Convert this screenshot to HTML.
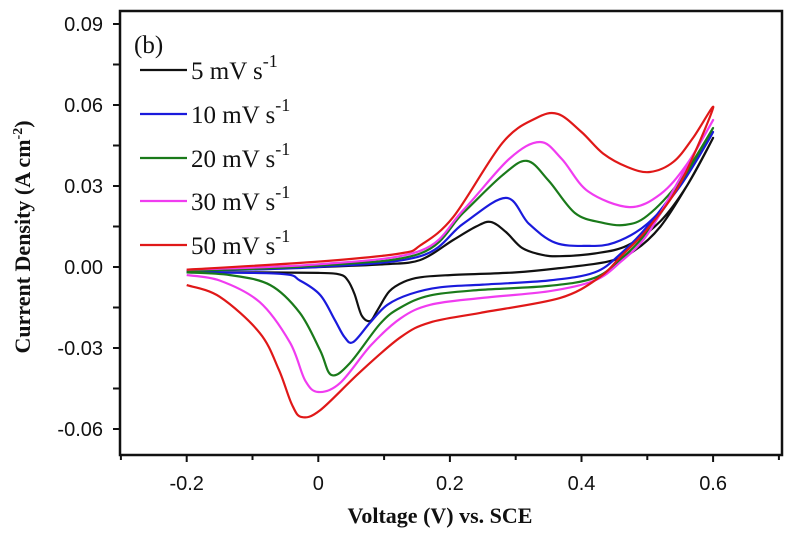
<!DOCTYPE html>
<html><head><meta charset="utf-8"><style>
body{margin:0;background:#fff;width:785px;height:532px;overflow:hidden}
svg text{fill:#111}
.tk{font-family:"Liberation Sans",sans-serif;font-size:20px}
.lg{font-family:"Liberation Serif",serif;font-size:25px}
.ax{font-family:"Liberation Serif",serif;font-size:22px;font-weight:bold}
</style></head><body>
<svg id="chart" width="785" height="532" xmlns="http://www.w3.org/2000/svg">
<g id="marks"></g>
<g id="axes"></g>
<g id="legend"></g>
</svg>
<script>
const xTicks=[-0.2,0,0.2,0.4,0.6];
const xTickLabels=["-0.2","0","0.2","0.4","0.6"];
const yTicks=[-0.06,-0.03,0,0.03,0.06,0.09];
const yTickLabels=["-0.06","-0.03","0.00","0.03","0.06","0.09"];
const seriesNames=["5 mV s","10 mV s","20 mV s","30 mV s","50 mV s"];
const v5=[-0.2,-0.1,0,0.1,0.155,0.205,0.24,0.262,0.285,0.31,0.34,0.367,0.42,0.47,0.52,0.56,0.6,0.56,0.52,0.48,0.44,0.367,0.3,0.2,0.155,0.13,0.108,0.09,0.079,0.066,0.055,0.045,0.033,0,-0.1,-0.2];
const i5=[-0.0015,-0.0005,0,0.001,0.0026,0.010,0.015,0.0167,0.013,0.007,0.0045,0.004,0.005,0.008,0.017,0.030,0.0478,0.030,0.015,0.006,0.002,-0.0004,-0.002,-0.003,-0.0038,-0.0055,-0.009,-0.016,-0.020,-0.018,-0.010,-0.005,-0.0028,-0.0022,-0.002,-0.002];
const v10=[-0.2,0,0.155,0.22,0.285,0.32,0.36,0.408,0.45,0.5,0.55,0.6,0.55,0.5,0.46,0.42,0.35,0.25,0.185,0.14,0.105,0.079,0.053,0.04,0.025,0.003,-0.028,-0.058,-0.2];
const i10=[-0.0015,0,0.004,0.016,0.0256,0.016,0.009,0.0078,0.009,0.016,0.030,0.050,0.031,0.015,0.005,-0.002,-0.005,-0.0065,-0.0075,-0.010,-0.014,-0.0205,-0.0278,-0.026,-0.0196,-0.0104,-0.005,-0.0025,-0.002];
const v20=[-0.2,0,0.155,0.22,0.28,0.317,0.35,0.39,0.43,0.466,0.5,0.55,0.6,0.55,0.5,0.46,0.42,0.35,0.246,0.17,0.125,0.094,0.048,0.02,0.003,-0.028,-0.073,-0.134,-0.2];
const i20=[-0.0015,0.0005,0.005,0.020,0.034,0.0393,0.032,0.020,0.0165,0.0156,0.019,0.032,0.0515,0.031,0.013,0.003,-0.004,-0.007,-0.0085,-0.0105,-0.015,-0.021,-0.0356,-0.040,-0.031,-0.017,-0.0067,-0.003,-0.002];
const v30=[-0.2,0,0.155,0.22,0.29,0.337,0.37,0.41,0.473,0.52,0.56,0.6,0.55,0.5,0.46,0.42,0.35,0.246,0.17,0.125,0.08,0.033,0,-0.02,-0.043,-0.089,-0.15,-0.2];
const i30=[-0.001,0.001,0.006,0.021,0.040,0.0463,0.040,0.028,0.0222,0.027,0.038,0.0544,0.033,0.012,0.002,-0.005,-0.009,-0.0115,-0.014,-0.019,-0.029,-0.043,-0.0463,-0.042,-0.028,-0.013,-0.005,-0.003];
const v50=[-0.2,0,0.124,0.155,0.205,0.28,0.33,0.364,0.40,0.433,0.47,0.504,0.54,0.57,0.6,0.55,0.5,0.46,0.428,0.367,0.246,0.17,0.125,0.063,0.003,-0.025,-0.04,-0.06,-0.089,-0.15,-0.2];
const i50=[-0.001,0.002,0.005,0.008,0.0185,0.046,0.055,0.0567,0.050,0.042,0.037,0.0352,0.039,0.048,0.0589,0.031,0.014,0.004,-0.0037,-0.0115,-0.017,-0.0205,-0.026,-0.039,-0.053,-0.0556,-0.051,-0.038,-0.0244,-0.011,-0.0067];
const colors=["#111","#1a1adc","#1a7a1a","#f03cf0","#e01818"];
const NS="http://www.w3.org/2000/svg";
const X0=120,X1=782,Y0=11,Y1=455;
const xs=v=>318.3+v*658;
const ys=i=>267-i*2700;
function mk(t,a,p){const e=document.createElementNS(NS,t);for(const k in a)e.setAttribute(k,a[k]);p.appendChild(e);return e;}
const marks=document.getElementById('marks'),axes=document.getElementById('axes'),legend=document.getElementById('legend');
function smooth(P){let d="M"+P[0][0]+","+P[0][1];for(let k=0;k<P.length-1;k++){const p0=P[k-1]||P[k],p1=P[k],p2=P[k+1],p3=P[k+2]||p2;const c1=[p1[0]+(p2[0]-p0[0])/6,p1[1]+(p2[1]-p0[1])/6],c2=[p2[0]-(p3[0]-p1[0])/6,p2[1]-(p3[1]-p1[1])/6];d+=`C${c1[0].toFixed(1)},${c1[1].toFixed(1)} ${c2[0].toFixed(1)},${c2[1].toFixed(1)} ${p2[0].toFixed(1)},${p2[1].toFixed(1)}`;}return d;}
const V=[v5,v10,v20,v30,v50],I=[i5,i10,i20,i30,i50];
V.forEach((vv,s)=>{const P=vv.map((v,k)=>[xs(v),ys(I[s][k])]);
const p=mk('path',{d:smooth(P),fill:'none',stroke:colors[s],'stroke-width':2.2,'stroke-linejoin':'round'},marks);

});
const fr=mk('rect',{x:X0,y:Y0,width:X1-X0,height:Y1-Y0,fill:'none',stroke:'#111','stroke-width':2.5},axes);


for(let v=-0.3;v<=0.7001;v+=0.1){const x=xs(v);const maj=Math.abs(Math.round(v*10)%2)===0;mk('line',{x1:x,x2:x,y1:Y1,y2:Y1+(maj?7:5),stroke:'#111','stroke-width':2},axes);}
xTicks.forEach((v,k)=>{const t=mk('text',{x:xs(v),y:Y1+35,'text-anchor':'middle',class:'tk'},axes);t.textContent=xTickLabels[k];

});
for(let i=-0.075;i<=0.0901;i+=0.015){const y=ys(i);if(y<Y0||y>Y1)continue;mk('line',{x1:X0-7,x2:X0,y1:y,y2:y,stroke:'#111','stroke-width':2},axes);}
yTicks.forEach((v,k)=>{const t=mk('text',{x:103,y:ys(v)+7,'text-anchor':'end',class:'tk'},axes);t.textContent=yTickLabels[k];

});
const xt=mk('text',{x:440,y:523,'text-anchor':'middle',class:'ax'},axes);xt.textContent="Voltage (V) vs. SCE";


const yt=mk('text',{x:0,y:0,'text-anchor':'middle',class:'ax',transform:'translate(30,237) rotate(-90)'},axes);
yt.innerHTML='Current Density (A cm<tspan dy="-8" font-size="14">-2</tspan><tspan dy="8">)</tspan>';


const pb=mk('text',{x:134,y:53,class:'lg'},legend);pb.textContent='(b)';pb.setAttribute('font-size','30');


const rows=[70,114,158,201,245];
seriesNames.forEach((n,s)=>{const y=rows[s];
const g=mk('g',{},legend);


mk('line',{x1:140,x2:187,y1:y,y2:y,stroke:colors[s],'stroke-width':2.2},g);
const t=mk('text',{x:191,y:y+9,class:'lg'},g);t.innerHTML=n+'<tspan dy="-12" font-size="18">-1</tspan>';});
</script>
</body></html>
